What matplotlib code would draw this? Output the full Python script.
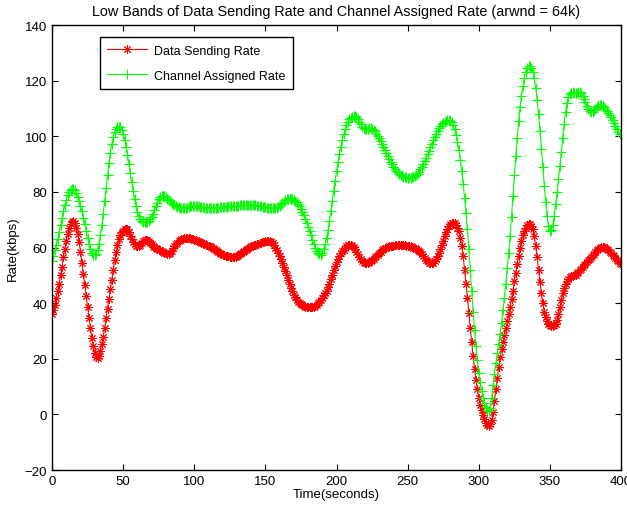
"""Low bands of data sending rate vs channel assigned rate (arwnd = 64k)."""

import numpy as np
import matplotlib
matplotlib.use("Agg")
import matplotlib.pyplot as plt

plt.rcParams["font.family"] = ["Liberation Sans", "DejaVu Sans"]

# one sample per second, t = 0 .. 400 s
time_s = np.arange(0, 401)

data_sending_rate = [
    36, 37.5, 39.5, 42, 44.5, 47, 50, 53, 56.5, 59.5,
    62.5, 65, 67, 68.5, 69.3, 69.5, 68.8, 67.2, 65, 62,
    58.5, 54.5, 50.5, 46.5, 42.5, 38.5, 34.5, 31, 27.5, 24.5,
    22, 20.5, 20.2, 21, 22.8, 25.2, 28, 31, 34.5, 38,
    41.5, 45, 48.5, 52, 55.5, 58.5, 61, 63, 64.5, 65.5,
    66, 66.5, 66.8, 66.5, 65.5, 64.2, 63, 62, 61.2, 60.7,
    60.5, 60.6, 61, 61.7, 62.3, 62.7, 62.8, 62.6, 62.2, 61.7,
    61.2, 60.7, 60.2, 59.8, 59.5, 59.2, 59, 58.7, 58.4, 58.1,
    57.9, 57.7, 57.8, 58.2, 58.9, 59.7, 60.5, 61.2, 61.8, 62.3,
    62.7, 63, 63.2, 63.3, 63.4, 63.4, 63.4, 63.3, 63.2, 63,
    62.8, 62.6, 62.4, 62.2, 62, 61.8, 61.5, 61.2, 61, 60.8,
    60.6, 60.4, 60.2, 60, 59.6, 59.2, 58.8, 58.4, 58, 57.7,
    57.4, 57.2, 57, 56.9, 56.8, 56.7, 56.6, 56.6, 56.6, 56.7,
    56.9, 57.2, 57.6, 58, 58.4, 58.8, 59.2, 59.6, 59.9, 60.2,
    60.4, 60.6, 60.8, 61, 61.2, 61.4, 61.6, 61.8, 62, 62.1,
    62.2, 62.3, 62.3, 62.2, 62, 61.5, 60.8, 60, 59, 58,
    57, 55.8, 54.5, 53, 51.5, 50, 48.5, 47, 45.6, 44.3,
    43.1, 42.1, 41.2, 40.5, 40, 39.6, 39.3, 39, 38.8, 38.6,
    38.5, 38.5, 38.5, 38.6, 38.8, 39.1, 39.5, 40, 40.6, 41.3,
    42, 42.8, 43.6, 44.5, 45.7, 47, 48.6, 50.2, 51.8, 53.4,
    54.8, 56, 57, 57.9, 58.6, 59.3, 59.9, 60.4, 60.8, 61,
    61, 60.7, 60.2, 59.4, 58.5, 57.6, 56.7, 55.9, 55.3, 54.8,
    54.5, 54.4, 54.5, 54.8, 55.2, 55.6, 56, 56.5, 57, 57.5,
    58, 58.5, 59, 59.4, 59.7, 60, 60.2, 60.4, 60.5, 60.6,
    60.7, 60.8, 60.8, 60.8, 60.8, 60.8, 60.8, 60.8, 60.8, 60.7,
    60.6, 60.5, 60.4, 60.2, 60, 59.8, 59.5, 59.2, 58.8, 58.3,
    57.7, 57, 56.3, 55.6, 55, 54.6, 54.4, 54.4, 54.6, 55.2,
    56, 57, 58.2, 59.5, 61, 62.5, 64, 65.5, 66.8, 67.8,
    68.6, 69, 69, 68.8, 68.2, 67.2, 65.8, 63.6, 60.6, 57,
    52, 47, 42, 36.5, 31, 26, 21, 16.5, 12.5, 9,
    6, 3.5, 1.5, -0.2, -1.8, -3, -3.8, -4, -3.6, -2,
    1, 5, 9, 13, 17, 20.5, 23.5, 26, 28.5, 31,
    33.5, 36, 38.5, 41.5, 44.5, 48, 51, 54, 57, 60,
    62.5, 64.5, 66, 67.2, 68, 68.4, 68.4, 67.8, 66.5, 64,
    60.5, 56.5, 52, 47.5, 43.5, 40, 37, 35, 33.5, 32.5,
    32, 31.8, 31.8, 32, 32.6, 34, 36, 38.5, 41, 43.5,
    45.5, 47, 48, 48.8, 49.3, 49.6, 49.8, 50, 50.3, 50.7,
    51.2, 51.8, 52.4, 53, 53.6, 54.2, 54.8, 55.4, 56, 56.6,
    57.2, 57.8, 58.4, 59, 59.5, 59.9, 60.1, 60.2, 60.1, 59.9,
    59.5, 59, 58.5, 58, 57.4, 56.8, 56.2, 55.6, 55, 54.5,
    54,
]

channel_assigned_rate = [
    55.2, 57, 59, 61, 63.2, 65.5, 68, 70.5, 73, 75.3,
    77.2, 78.8, 80, 80.8, 81.2, 81.2, 80.6, 79.6, 78.3, 76.8,
    75, 73, 70.8, 68.5, 66, 63.6, 61.4, 59.6, 58.2, 57.4,
    57.2, 57.8, 59.2, 61.4, 64.4, 68, 72.2, 76.8, 81.5, 86,
    90.3, 94, 97.2, 99.8, 101.6, 102.8, 103.4, 103.5, 103.2, 102.3,
    100.8, 98.8, 96.3, 93.4, 90.2, 86.8, 83.4, 80.2, 77.3, 74.8,
    72.8, 71.2, 70.1, 69.5, 69.2, 69.1, 69.1, 69.3, 69.7, 70.3,
    71.1, 72.2, 73.5, 74.9, 76.2, 77.3, 78.1, 78.6, 78.7, 78.5,
    78.1, 77.6, 77.1, 76.6, 76.2, 75.8, 75.4, 75, 74.7, 74.5,
    74.3, 74.2, 74.1, 74.1, 74.2, 74.4, 74.6, 74.8, 75, 75.1,
    75.1, 75, 74.9, 74.8, 74.7, 74.6, 74.5, 74.4, 74.4, 74.3,
    74.3, 74.3, 74.3, 74.3, 74.3, 74.3, 74.4, 74.4, 74.5, 74.5,
    74.6, 74.6, 74.7, 74.7, 74.8, 74.8, 74.9, 74.9, 75, 75,
    75.1, 75.1, 75.2, 75.2, 75.3, 75.3, 75.4, 75.4, 75.4, 75.4,
    75.4, 75.3, 75.3, 75.2, 75.1, 75, 74.9, 74.8, 74.7, 74.6,
    74.5, 74.4, 74.3, 74.2, 74.1, 74.1, 74.1, 74.2, 74.4, 74.7,
    75.1, 75.5, 76, 76.5, 77, 77.4, 77.6, 77.7, 77.6, 77.4,
    77.2, 76.9, 76.4, 75.8, 75, 74, 72.9, 71.7, 70.4, 69,
    67.5, 66, 64.4, 62.8, 61.3, 60, 58.9, 58.1, 57.6, 57.5,
    58.2, 59.5, 61.3, 63.6, 66.4, 69.6, 73.1, 76.8, 80.5, 84.1,
    87.5, 90.7, 93.6, 96.2, 98.6, 100.7, 102.5, 104, 105.2, 106.1,
    106.7, 107.1, 107.3, 107.2, 106.8, 106.1, 105.2, 104.3, 103.5, 102.9,
    102.6, 102.6, 102.8, 103, 103, 102.8, 102.4, 101.8, 101, 100.2,
    99.3, 98.3, 97.2, 96.1, 95, 93.9, 92.8, 91.8, 90.8, 89.9,
    89.1, 88.3, 87.6, 87, 86.5, 86.1, 85.8, 85.5, 85.3, 85.2,
    85.1, 85.1, 85.1, 85.2, 85.4, 85.7, 86.1, 86.6, 87.3, 88.1,
    89, 90, 91.1, 92.3, 93.5, 94.8, 96.1, 97.4, 98.7, 99.9,
    101, 102, 102.9, 103.7, 104.4, 104.9, 105.3, 105.6, 105.8, 105.8,
    105.6, 105, 104, 102.5, 100.5, 98, 95, 91.5, 87.5, 83,
    78, 72.5, 66.5, 59.5, 52, 44.5, 37, 30.5, 24.5, 19.5,
    15, 11.5, 8.5, 6, 4, 2.6, 1.6, 1.2, 2.5, 6,
    10.5, 14.5, 18.5, 22, 25.5, 29, 33, 37.5, 42, 47,
    52.5, 58, 64, 71, 78.5, 86, 93, 99.5, 105.5, 110.5,
    114.5, 118, 121, 123.2, 124.6, 125.3, 125.3, 124.6, 123.2, 120.8,
    117.5, 113.2, 108, 102, 95.5, 88.8, 82.3, 76.3, 71.3, 67.8,
    66, 66.2, 68, 71.5, 75.5, 80, 84.5, 89.5, 94.5, 99.5,
    104.5, 108.8, 112, 114, 115.2, 115.7, 115.8, 115.6, 115.5, 115.6,
    115.8, 115.8, 115.4, 114.6, 113.5, 112.2, 110.9, 109.8, 109, 108.7,
    108.8, 109.3, 110, 110.7, 111.2, 111.4, 111.3, 111, 110.5, 109.9,
    109.2, 108.5, 107.7, 106.8, 105.8, 104.7, 103.6, 102.5, 101.6, 101,
    100.7,
]

x_ticks = list(range(0, 401, 50))
y_ticks = list(range(-20, 141, 20))

fig = plt.figure(figsize=(6.27, 5.06), dpi=100)
ax = fig.add_axes([0.083, 0.069, 0.9075, 0.8795])

# MATLAB-style '*' marker: eight thin spokes
asterisk = (8, 2, 0)
ax.plot(time_s, data_sending_rate, color=(1, 0, 0), linewidth=0.8,
        marker=asterisk, markersize=6, markeredgewidth=0.7, label="Data Sending Rate")
ax.plot(time_s, channel_assigned_rate, color=(0, 1, 0), linewidth=0.8,
        marker="+", markersize=7, markeredgewidth=0.8, label="Channel Assigned Rate")

ax.set_xlim(0, 400)
ax.set_ylim(-20, 140)
ax.set_xticks(x_ticks)
ax.set_yticks(y_ticks)
ax.tick_params(direction="in", top=True, right=True, labelsize=9.5, length=4)
for side in ax.spines.values():
    side.set_linewidth(1.0)

ax.set_xlabel("Time(seconds)", fontsize=9.5, labelpad=1)
ax.set_ylabel("Rate(kbps)", fontsize=9.5, labelpad=4)
ax.set_title("Low Bands of Data Sending Rate and Channel Assigned Rate (arwnd = 64k)",
             fontsize=10.4, pad=7)

leg = ax.legend(loc="upper left", bbox_to_anchor=(0.084, 0.973), fontsize=9.0,
                fancybox=False, framealpha=1, edgecolor="black",
                borderaxespad=0, handlelength=3.2, handletextpad=0.55,
                borderpad=0.6, labelspacing=1.05)
leg.get_frame().set_linewidth(1.0)

fig.savefig("out.png", dpi=100)
plt.close(fig)
